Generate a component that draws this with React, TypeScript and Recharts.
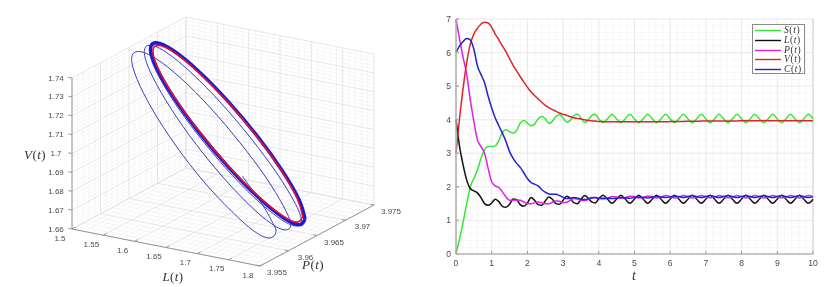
import {
  CartesianGrid,
  Label,
  Legend,
  Line,
  LineChart,
  ReferenceDot,
  ReferenceLine,
  XAxis,
  YAxis,
} from "recharts";

// ---------- time series (right panel) ----------
const times = [
  0, 0.1, 0.2, 0.3, 0.4, 0.5, 0.6, 0.7, 0.8, 0.9, 1, 1.1, 1.2, 1.3, 1.4, 1.5, 1.6, 1.7, 1.8, 1.9, 2,
  2.1, 2.2, 2.3, 2.4, 2.5, 2.6, 2.7, 2.8, 2.9, 3, 3.1, 3.2, 3.3, 3.4, 3.5, 3.6, 3.7, 3.8, 3.9, 4,
  4.12, 4.245, 4.37, 4.495, 4.62, 4.745, 4.87, 4.995, 5.12, 5.245, 5.37, 5.495, 5.62, 5.745, 5.87, 5.995,
  6.12, 6.245, 6.37, 6.495, 6.62, 6.745, 6.87, 6.995, 7.12, 7.245, 7.37, 7.495, 7.62, 7.745, 7.87, 7.995,
  8.12, 8.245, 8.37, 8.495, 8.62, 8.745, 8.87, 8.995, 9.12, 9.245, 9.37, 9.495, 9.62, 9.745, 9.87, 10,
];
const sValues = [
  0, 0.45, 0.95, 1.5, 2.0, 2.25, 2.5, 2.85, 3.1, 3.2, 3.2, 3.22, 3.38, 3.62, 3.7, 3.64, 3.6, 3.68, 3.9, 3.98, 3.9,
  3.82, 3.87, 4.02, 4.1, 4.03, 3.89, 3.95, 4.1, 4.15, 4.05, 3.93, 3.98, 4.12, 4.17, 4.05, 3.92, 3.98, 4.12, 4.16, 4.02,
  3.91, 4.03, 4.16, 4.03, 3.91, 4.03, 4.16, 4.03, 3.91, 4.03, 4.16, 4.03, 3.91, 4.03, 4.16, 4.03,
  3.91, 4.03, 4.16, 4.03, 3.91, 4.03, 4.16, 4.03, 3.91, 4.03, 4.16, 4.03, 3.91, 4.03, 4.16, 4.03,
  3.91, 4.03, 4.16, 4.03, 3.91, 4.03, 4.16, 4.03, 3.91, 4.03, 4.16, 4.03, 3.91, 4.03, 4.16, 4.03,
];
const lValues = [
  4, 3.2, 2.65, 2.2, 1.95, 1.88, 1.82, 1.68, 1.5, 1.45, 1.52, 1.63, 1.56, 1.42, 1.39, 1.48, 1.64, 1.62, 1.47, 1.42, 1.52,
  1.68, 1.6, 1.47, 1.45, 1.58, 1.7, 1.63, 1.5, 1.48, 1.6, 1.72, 1.66, 1.53, 1.5, 1.62, 1.74, 1.67, 1.55, 1.52, 1.65,
  1.75, 1.63, 1.51, 1.63, 1.75, 1.63, 1.51, 1.63, 1.75, 1.63, 1.51, 1.63, 1.75, 1.63, 1.51, 1.63,
  1.75, 1.63, 1.51, 1.63, 1.75, 1.63, 1.51, 1.63, 1.75, 1.63, 1.51, 1.63, 1.75, 1.63, 1.51, 1.63,
  1.75, 1.63, 1.51, 1.63, 1.75, 1.63, 1.51, 1.63, 1.75, 1.63, 1.51, 1.63, 1.75, 1.63, 1.51, 1.63,
];
const pValues = [
  7, 6.4, 5.85, 5.35, 4.6, 3.95, 3.4, 3.2, 3.0, 2.55, 2.15, 2.03, 1.98, 1.85, 1.7, 1.6, 1.6, 1.61, 1.6, 1.55, 1.5,
  1.5, 1.53, 1.55, 1.53, 1.5, 1.5, 1.54, 1.58, 1.57, 1.53, 1.54, 1.6, 1.65, 1.64, 1.6, 1.59, 1.62, 1.68, 1.68, 1.65,
  1.64, 1.66, 1.71, 1.7, 1.66, 1.68, 1.72, 1.71, 1.67, 1.69, 1.73, 1.71, 1.67, 1.7, 1.74, 1.71,
  1.67, 1.7, 1.74, 1.71, 1.67, 1.7, 1.74, 1.71, 1.67, 1.7, 1.74, 1.71, 1.67, 1.7, 1.74, 1.71,
  1.67, 1.7, 1.74, 1.71, 1.67, 1.7, 1.74, 1.71, 1.67, 1.7, 1.74, 1.71, 1.67, 1.7, 1.74, 1.71,
];
const vValues = [
  3, 4.05, 4.95, 5.7, 6.25, 6.55, 6.72, 6.85, 6.9, 6.88, 6.75, 6.55, 6.38, 6.2, 6.02, 5.82, 5.62, 5.45, 5.28, 5.12, 4.97,
  4.83, 4.72, 4.62, 4.52, 4.43, 4.36, 4.3, 4.25, 4.2, 4.16, 4.13, 4.09, 4.06, 4.04, 4.02, 4.0, 3.98, 3.97, 3.96, 3.95,
  3.945, 3.94, 3.94, 3.94, 3.94, 3.94, 3.94, 3.94, 3.94, 3.94, 3.94, 3.94, 3.94, 3.94, 3.94, 3.945,
  3.95, 3.95, 3.95, 3.955, 3.955, 3.955, 3.96, 3.96, 3.96, 3.96, 3.965, 3.965, 3.965, 3.965, 3.965, 3.97,
  3.97, 3.97, 3.97, 3.97, 3.97, 3.97, 3.97, 3.97, 3.97, 3.97, 3.97, 3.97, 3.97, 3.97, 3.97, 3.97,
];
const cValues = [
  6, 6.2, 6.33, 6.42, 6.38, 6.1, 5.6, 5.35, 5.1, 4.7, 4.35, 4.05, 3.82, 3.6, 3.35, 3.05, 2.85, 2.7, 2.58, 2.42, 2.25,
  2.13, 2.08, 2.03, 1.92, 1.84, 1.79, 1.78, 1.78, 1.74, 1.69, 1.65, 1.66, 1.68, 1.67, 1.63, 1.62, 1.64, 1.67, 1.68, 1.66,
  1.66, 1.66, 1.65, 1.66, 1.68, 1.67, 1.66, 1.68, 1.7, 1.68, 1.67, 1.69, 1.72, 1.7, 1.68, 1.7,
  1.73, 1.71, 1.68, 1.71, 1.74, 1.71, 1.68, 1.71, 1.74, 1.71, 1.68, 1.71, 1.74, 1.71, 1.68, 1.71,
  1.74, 1.71, 1.68, 1.71, 1.74, 1.71, 1.68, 1.71, 1.74, 1.71, 1.68, 1.71, 1.74, 1.71, 1.68, 1.71,
];
const xTicks = [0, 1, 2, 3, 4, 5, 6, 7, 8, 9, 10];
const yTicks = [0, 1, 2, 3, 4, 5, 6, 7];

const seriesList = [
  { key: "s", name: "S", color: "#35e635", values: sValues },
  { key: "l", name: "L", color: "#111111", values: lValues },
  { key: "p", name: "P", color: "#e01fe0", values: pValues },
  { key: "v", name: "V", color: "#dd2525", values: vValues },
  { key: "c", name: "C", color: "#2222cc", values: cValues },
];

const timeTable = times.map((t, i) => {
  const row: Record<string, number> = { t };
  seriesList.forEach((s) => (row[s.key] = s.values[i]));
  return row;
});

// minor grid positions
const minorX: number[] = [];
for (let i = 0; i <= 50; i++) if (i % 5) minorX.push(i / 5);
const minorY: number[] = [];
for (let i = 0; i <= 35; i++) if (i % 5) minorY.push(i / 5);

// ---------- phase portrait (left panel) ----------
const spiralL = [
  1.6809, 1.6905, 1.7144, 1.7304, 1.7346,
  1.7258, 1.7009, 1.6635, 1.6194, 1.5753, 1.5379, 1.513, 1.5042,
  1.5155, 1.5432, 1.5833, 1.6303, 1.6775, 1.7181, 1.7462, 1.758,
  1.7491, 1.7238, 1.6859, 1.6412, 1.5965, 1.5586, 1.5333, 1.5244,
  1.5343, 1.5609, 1.6006, 1.6475, 1.6948, 1.7356, 1.7636, 1.775,
  1.7658, 1.7395, 1.7001, 1.6537, 1.6073, 1.5679, 1.5416, 1.5324,
  1.5421, 1.5695, 1.6095, 1.6565, 1.704, 1.7445, 1.7713, 1.7809,
];
const spiralV = [
  1.6837, 1.6799, 1.67, 1.6615, 1.6577,
  1.6539, 1.6555, 1.664, 1.6767, 1.6927, 1.7093, 1.724, 1.7345,
  1.7389, 1.7369, 1.729, 1.7164, 1.701, 1.6856, 1.6722, 1.6634,
  1.6596, 1.6621, 1.6707, 1.6839, 1.6997, 1.7159, 1.7298, 1.7394,
  1.7434, 1.7411, 1.7328, 1.72, 1.7045, 1.6889, 1.6756, 1.6666,
  1.6628, 1.6653, 1.6735, 1.6864, 1.7019, 1.7177, 1.7314, 1.7408,
  1.7446, 1.7427, 1.7345, 1.7217, 1.7062, 1.6905, 1.677, 1.6676,
];
const cycleL = [
  1.7809, 1.7715, 1.7448, 1.7048, 1.6577, 1.6106, 1.5706, 1.5439, 1.5345, 1.5439, 1.5706, 1.6106, 1.6577, 1.7048,
  1.7448, 1.7715, 1.7809,
];
const cycleV = [
  1.6676, 1.677, 1.6906, 1.7064, 1.7219, 1.7348, 1.743, 1.7454, 1.7416, 1.7322, 1.7186, 1.7028, 1.6873, 1.6744,
  1.6662, 1.6638, 1.6676,
];
const innerL = [
  1.7772, 1.7681, 1.7422, 1.7034, 1.6577, 1.612, 1.5732, 1.5473, 1.5382, 1.5473, 1.5732, 1.612, 1.6577, 1.7034,
  1.7422, 1.7681, 1.7772,
];
const innerV = [
  1.6687, 1.6778, 1.6911, 1.7064, 1.7214, 1.7338, 1.7419, 1.7442, 1.7405, 1.7314, 1.7181, 1.7028, 1.6878, 1.6754,
  1.6673, 1.665, 1.6687,
];
const orbitP = 3.965;

const lTicks = [1.5, 1.55, 1.6, 1.65, 1.7, 1.75, 1.8];
const pTicks = [3.955, 3.96, 3.965, 3.97, 3.975];
const vTicks = [1.66, 1.67, 1.68, 1.69, 1.7, 1.71, 1.72, 1.73, 1.74];

const PANEL_W = 420;
const PANEL_H = 287;

// view of the box: three unit vectors on the image plane
function project(l: number, p: number, v: number) {
  const a = (l - 1.5) / 0.3;
  const b = (p - 3.955) / 0.02;
  const c = (v - 1.66) / 0.08;
  return { x: 72 + a * 188 + b * 114, y: 229 + a * 37 - b * 61 - c * 151 };
}

type P3 = [number, number, number];
// one Line with gaps for many straight segments
function segments(list: [P3, P3][]) {
  const out: { x: number; y: number | null }[] = [];
  list.forEach(([a, b]) => {
    const pa = project(...a);
    const pb = project(...b);
    out.push(pa, pb, { x: pb.x, y: null });
  });
  return out;
}

const L0 = 1.5, L1 = 1.8, P0 = 3.955, P1 = 3.975, V0 = 1.66, V1 = 1.74;

function wallLines(ls: number[], ps: number[], vs: number[]) {
  const list: [P3, P3][] = [];
  ls.forEach((l) => {
    list.push([[l, P0, V0], [l, P1, V0]]);
    list.push([[l, P1, V0], [l, P1, V1]]);
  });
  ps.forEach((p) => {
    list.push([[L0, p, V0], [L1, p, V0]]);
    list.push([[L0, p, V0], [L0, p, V1]]);
  });
  vs.forEach((v) => {
    list.push([[L0, P0, v], [L0, P1, v]]);
    list.push([[L0, P1, v], [L1, P1, v]]);
  });
  return segments(list);
}

const minorL: number[] = [];
for (let i = 0; i <= 30; i++) if (i % 5) minorL.push(1.5 + i * 0.01);
const minorP: number[] = [];
for (let i = 0; i <= 20; i++) if (i % 5) minorP.push(3.955 + i * 0.001);
const minorV: number[] = [];
for (let i = 0; i <= 40; i++) if (i % 5) minorV.push(1.66 + i * 0.002);

const minorGrid = wallLines(minorL, minorP, minorV);
const majorGrid = wallLines(lTicks, pTicks, vTicks);

const axisLines = segments([
  [[L0, P0, V0], [L0, P0, V1]],
  [[L0, P0, V0], [L1, P0, V0]],
  [[L1, P0, V0], [L1, P1, V0]],
  ...vTicks.map((v) => [[L0, P0, v], [L0 - 0.006, P0, v]] as [P3, P3]),
  ...lTicks.map((l) => [[l, P0, V0], [l, P0 + 0.0006, V0]] as [P3, P3]),
  ...pTicks.map((p) => [[L1, p, V0], [L1 - 0.006, p, V0]] as [P3, P3]),
]);

const toPath = (ls: number[], vs: number[]) => ls.map((l, i) => project(l, orbitP, vs[i]));
const spiralPath = toPath(spiralL, spiralV);
const cyclePath = toPath(cycleL, cycleV);
const innerPath = toPath(innerL, innerV);

const SANS = "'Liberation Sans', Arial, sans-serif";
const SERIF = "'Liberation Serif', 'Times New Roman', serif";
const TICK_COLOR = "#4a4a4a";

function MathName({ name, x, y, size }: { name: string; x: number; y: number; size: number }) {
  return (
    <text x={x} y={y} textAnchor="middle" dominantBaseline="central" fontFamily={SERIF} fontSize={size} fill="#333" letterSpacing={0.4}>
      <tspan fontStyle="italic">{name}</tspan>(<tspan fontStyle="italic">t</tspan>)
    </text>
  );
}

function TickNote({ x, y, text }: { x: number; y: number; text: string }) {
  return (
    <ReferenceDot x={x} y={y} r={0} fill="none" stroke="none" ifOverflow="visible">
      <Label
        content={({ viewBox }: any) => (
          <text x={viewBox.x} y={viewBox.y} textAnchor="middle" dominantBaseline="central" fontFamily={SANS} fontSize={8} fill={TICK_COLOR}>
            {text}
          </text>
        )}
      />
    </ReferenceDot>
  );
}

function NameNote({ x, y, name, size }: { x: number; y: number; name: string; size: number }) {
  return (
    <ReferenceDot x={x} y={y} r={0} fill="none" stroke="none" ifOverflow="visible">
      <Label content={({ viewBox }: any) => <MathName name={name} x={viewBox.x} y={viewBox.y} size={size} />} />
    </ReferenceDot>
  );
}

function PhasePortrait() {
  return (
    <LineChart width={PANEL_W} height={PANEL_H} margin={{ top: 0, right: 0, bottom: 0, left: 0 }}>
      <XAxis type="number" dataKey="x" domain={[0, PANEL_W]} hide />
      <YAxis type="number" domain={[0, PANEL_H]} reversed hide width={0} />
      <Line data={minorGrid} dataKey="y" stroke="#f2f2f2" strokeWidth={0.7} dot={false} activeDot={false} legendType="none" isAnimationActive={false} />
      <Line data={majorGrid} dataKey="y" stroke="#e0e0e0" strokeWidth={0.8} dot={false} activeDot={false} legendType="none" isAnimationActive={false} />
      <Line data={axisLines} dataKey="y" stroke="#8c8c8c" strokeWidth={0.9} dot={false} activeDot={false} legendType="none" isAnimationActive={false} />
      <Line data={spiralPath} dataKey="y" type="natural" stroke="#3a3ec4" strokeWidth={1} dot={false} activeDot={false} isAnimationActive={false} />
      <Line data={cyclePath} dataKey="y" type="natural" stroke="#1a1ad2" strokeWidth={3.5} dot={false} activeDot={false} isAnimationActive={false} />
      <Line data={innerPath} dataKey="y" type="natural" stroke="#e8102c" strokeWidth={1.6} dot={false} activeDot={false} isAnimationActive={false} />
      {vTicks.map((v) => {
        const q = project(L0, P0, v);
        return <TickNote key={v} x={q.x - 16} y={q.y} text={String(v)} />;
      })}
      {lTicks.map((l) => {
        const q = project(l, P0, V0);
        return <TickNote key={l} x={q.x - 12} y={q.y + 9} text={String(l)} />;
      })}
      {pTicks.map((p) => {
        const q = project(L1, p, V0);
        return <TickNote key={p} x={q.x + 17} y={q.y + 6.5} text={String(p)} />;
      })}
      <NameNote x={35} y={154} name="V" size={13} />
      <NameNote x={173} y={276} name="L" size={13} />
      <NameNote x={313} y={264} name="P" size={13} />
    </LineChart>
  );
}

function LegendBox() {
  return (
    <div style={{ width: 53, height: 50, boxSizing: "border-box", background: "#fff", border: "1px solid #8a8a8a", paddingTop: 1 }}>
      {seriesList.map((s) => (
        <div key={s.key} style={{ display: "flex", alignItems: "center", height: 9.65, fontFamily: SERIF, fontSize: 9.5, color: "#333", letterSpacing: 0.6 }}>
          <svg width={28} height={9} style={{ marginLeft: 1, flex: "none" }}>
            <line x1={1} x2={27} y1={4.5} y2={4.5} stroke={s.color} strokeWidth={1.4} />
          </svg>
          <span style={{ marginLeft: 2, lineHeight: "9px" }}>
            <i>{s.name}</i>(<i>t</i>)
          </span>
        </div>
      ))}
    </div>
  );
}

function TimeSeries() {
  return (
    <LineChart width={418} height={287} data={timeTable} margin={{ top: 19, right: 25, bottom: 0, left: 0 }}>
      <CartesianGrid horizontalValues={minorY} verticalValues={minorX} stroke="#f3f3f3" strokeWidth={0.7} />
      <CartesianGrid horizontalValues={yTicks} verticalValues={xTicks} stroke="#e2e2e2" strokeWidth={0.8} />
      <ReferenceLine x={10} stroke="#c8c8c8" strokeWidth={0.8} />
      <XAxis
        type="number"
        dataKey="t"
        domain={[0, 10]}
        ticks={xTicks}
        height={33}
        tickSize={-3}
        tickMargin={9}
        tick={{ fontFamily: SANS, fontSize: 8.6, fill: TICK_COLOR }}
        stroke="#9a9a9a"
        interval={0}
      />
      <YAxis
        type="number"
        domain={[0, 7]}
        ticks={yTicks}
        width={36}
        tickSize={-3}
        tickMargin={8}
        tick={{ fontFamily: SANS, fontSize: 8.6, fill: TICK_COLOR }}
        stroke="#adadad"
        strokeWidth={1.5}
        interval={0}
      />
      {seriesList.map((s) => (
        <Line key={s.key} dataKey={s.key} name={s.name} type="monotone" stroke={s.color} strokeWidth={1.5} dot={false} activeDot={false} isAnimationActive={false} />
      ))}
      <Legend
        layout="vertical"
        align="center"
        verticalAlign="middle"
        content={() => <LegendBox />}
        wrapperStyle={{ left: 332, top: 24, width: 53, height: 50 }}
      />
    </LineChart>
  );
}

export default function App() {
  return (
    <div style={{ position: "absolute", left: 0, top: 0, width: 838, height: 287, background: "#fff", overflow: "hidden", filter: "blur(0.35px)" }}>
      <div style={{ position: "absolute", left: 0, top: 0 }}>
        <PhasePortrait />
      </div>
      <div style={{ position: "absolute", left: 420, top: 0 }}>
        <TimeSeries />
      </div>
      <div style={{ position: "absolute", left: 634, top: 276, transform: "translate(-50%,-50%)", fontFamily: SERIF, fontStyle: "italic", fontSize: 14, color: "#333", lineHeight: "14px" }}>
        t
      </div>
    </div>
  );
}
